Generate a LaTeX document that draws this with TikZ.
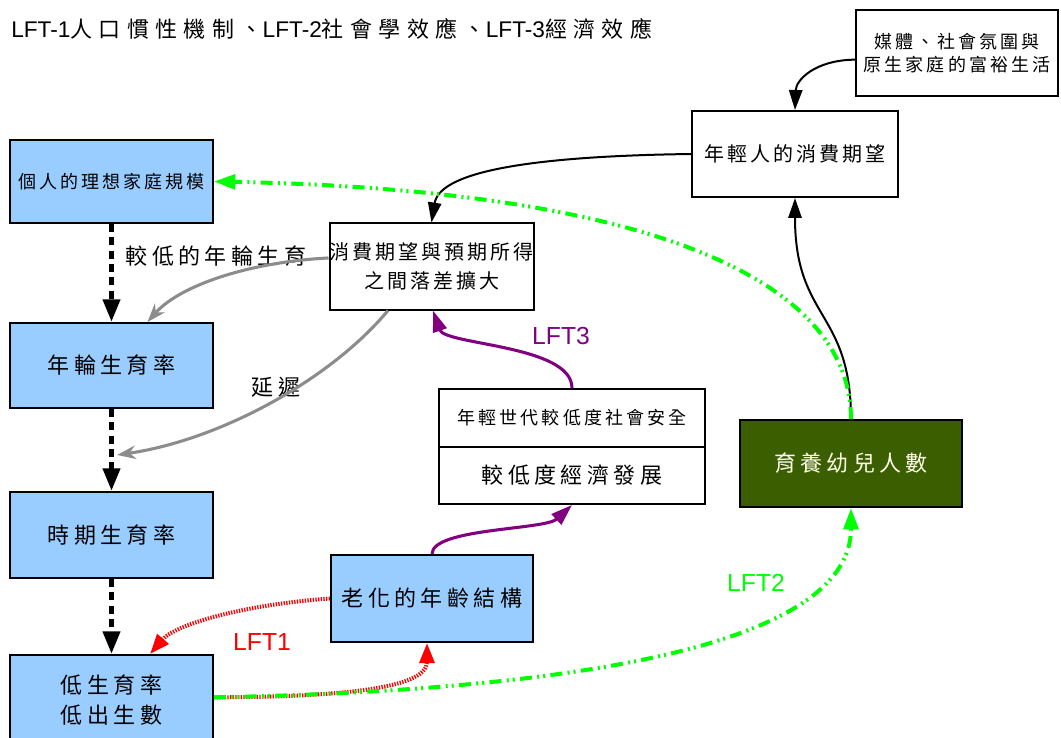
\documentclass[tikz,border=0pt]{standalone}
\usepackage{fontspec}
\setmainfont{Noto Sans CJK TC}[LetterSpace=20]
\newfontfamily\cjkbig{Noto Sans CJK TC}[LetterSpace=20]
\newfontfamily\cjkmid{Noto Sans CJK TC}[LetterSpace=15]
\newfontfamily\cjksmall{Noto Sans CJK TC}[LetterSpace=17]
\newfontfamily\cjkt{Noto Sans CJK TC}[LetterSpace=29]
\newfontfamily\lat{Liberation Sans}
\usetikzlibrary{arrows.meta}
\definecolor{boxblue}{HTML}{99CCFF}
\definecolor{dkgreen}{HTML}{3A5E00}
\definecolor{lgreen}{HTML}{00FF00}
\definecolor{purp}{HTML}{800080}
\definecolor{grayarr}{HTML}{8C8C8C}
\tikzset{
  box/.style={draw, line width=1.5pt, inner sep=0pt, align=center},
  bluebox/.style={box, fill=boxblue},
  big/.style={font=\cjkbig\fontsize{16.5}{23}\selectfont},
  mid/.style={font=\cjkmid\fontsize{15}{21.75}\selectfont},
  small/.style={font=\cjksmall\fontsize{13.5}{17}\selectfont},
  lbl/.style={font=\lat\fontsize{18.5}{20}\selectfont, inner sep=0pt},
  blackarr/.style={line width=1.5pt, -{Triangle[length=15pt,width=10pt]}},
  dasharr/.style={line width=3.75pt, dash pattern=on 6pt off 4pt, -{Triangle[length=17pt,width=12.5pt]}},
  grayline/.style={draw=grayarr, line width=2.3pt, -{Stealth[length=14pt,width=10pt]}},
  greenline/.style={draw=lgreen, line width=3pt, dash pattern=on 9pt off 4pt on 1.5pt off 3pt on 1.5pt off 4pt, -{Triangle[length=16pt,width=11pt]}},
  redline/.style={draw=red, line width=3pt, dash pattern=on 1pt off 1pt, -{Triangle[length=15pt,width=11pt]}},
  purpline/.style={draw=purp, line width=2.3pt, -{Triangle[length=16pt,width=10.5pt]}},
}
\begin{document}
\begin{tikzpicture}[x=0.75pt,y=-0.75pt]
\useasboundingbox (0,0) rectangle (1061,738);
% title
\node[anchor=base west, inner sep=0pt] (title) at (11,38)
  {\lat\fontsize{17}{20}\selectfont LFT-1{\cjkt\fontsize{16.5}{20}\selectfont 人口慣性機制、}LFT-2{\cjkt\fontsize{16.5}{20}\selectfont 社會學效應、}LFT-3{\cjkt\fontsize{16.5}{20}\selectfont 經濟效應}};
% boxes
\node[box, small, minimum width=151.5pt, minimum height=64.5pt] (media) at (957,53) {媒體、社會氛圍與\\原生家庭的富裕生活};
\node[box, mid, minimum width=154.5pt, minimum height=64.5pt] (young) at (795,154) {年輕人的消費期望};
\node[bluebox, small, minimum width=152.25pt, minimum height=62.25pt] (ideal) at (111.5,181.5) {個人的理想家庭規模};
\node[box, mid, minimum width=152.25pt, minimum height=64.5pt] (gap) at (431.5,266.5) {消費期望與預期所得\\之間落差擴大};
\node[bluebox, big, minimum width=152.25pt, minimum height=63.75pt] (cohort) at (111.5,365.5) {年輪生育率};
\node[bluebox, big, minimum width=152.25pt, minimum height=64.5pt] (period) at (111.5,535) {時期生育率};
\node[bluebox, big, minimum width=152.25pt, minimum height=67.5pt] (low) at (111.5,700) {低生育率\\低出生數};
\node[bluebox, big, minimum width=151.5pt, minimum height=65.25pt] (aging) at (432,598.5) {老化的年齡結構};
\node[box, small, minimum width=199.5pt, minimum height=43.5pt] (econtop) at (572,418) {年輕世代較低度社會安全};
\node[box, big, minimum width=199.5pt, minimum height=42.75pt] (econbot) at (572,475.5) {較低度經濟發展};
\node[box, big, fill=dkgreen, text=white!92!yellow, minimum width=166.5pt, minimum height=65.25pt] (child) at (851,463.5) {育養幼兒人數};
% labels
\node[big, inner sep=0pt] (lowcoh) at (216,256) {較低的年輪生育};
\node[big, inner sep=0pt] (delaylbl) at (276,387) {延遲};
\node[lbl, text=purp] (lft3) at (561,336) {LFT3};
\node[lbl, text=red] (lft1) at (262,642) {LFT1};
\node[lbl, text=lgreen] (lft2) at (756,583) {LFT2};
\coordinate (delayend) at (117,455);
% dashed black chain
\draw[dasharr] (ideal.south) -- (cohort.north);
\draw[dasharr] (cohort.south) -- (period.north);
\draw[dasharr] (period.south) -- (low.north);
% gray arrows
\draw[grayline] ([yshift=6.4pt]gap.west) .. controls (250,262) and (180,285) .. ([xshift=27pt]cohort.north);
\draw[grayline] ([xshift=-32.6pt]gap.south) .. controls (330,380) and (220,440) .. (delayend);
% black arrows
\draw[blackarr] (young.west) .. controls (540,156) and (440,170) .. (gap.north);
\draw[blackarr] ([yshift=-5pt]media.west) .. controls (815,60) and (796,80) .. (young.north);
\draw[blackarr] (child.north) .. controls (851,310) and (795,320) .. (young.south);
% green
\draw[greenline] (child.north) .. controls (851,280) and (650,190) .. (ideal.east);
% red
\draw[redline] (aging.west) .. controls (240,605) and (175,625) .. ([xshift=28.9pt]low.north);
\draw[redline] ([yshift=2pt]low.east) .. controls (330,697) and (427,690) .. ([xshift=-3.75pt]aging.south);
\draw[greenline] ([yshift=2pt]low.east) .. controls (600,690) and (851,640) .. (child.south);
% purple
\draw[purpline] (aging.north) .. controls (432,528) and (545,530) .. (econbot.south);
\draw[purpline] (econtop.north) .. controls (572,345) and (445,345) .. ([xshift=1.1pt]gap.south);
\end{tikzpicture}
\end{document}
